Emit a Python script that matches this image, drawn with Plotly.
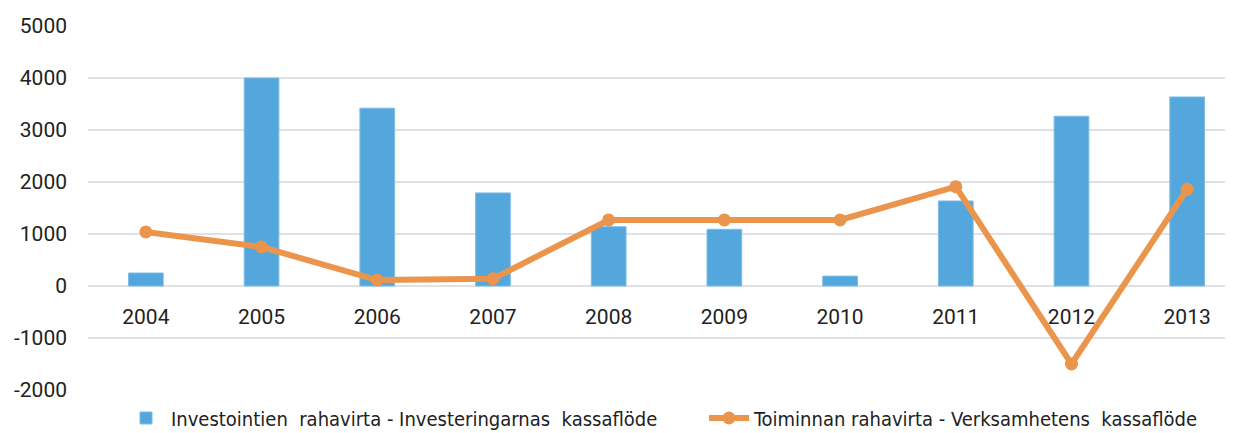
import plotly.graph_objects as go

years = ["2004", "2005", "2006", "2007", "2008", "2009", "2010", "2011", "2012", "2013"]
investing = [250, 4000, 3420, 1790, 1140, 1090, 190, 1635, 3265, 3635]
operating = [1040, 750, 115, 140, 1270, 1270, 1270, 1910, -1500, 1860]
bar_name = "Investointien  rahavirta - Investeringarnas  kassaflöde"
line_name = "Toiminnan rahavirta - Verksamhetens  kassaflöde"
y_min, y_max = -2000, 5000
y_ticks = [-2000, -1000, 0, 1000, 2000, 3000, 4000, 5000]

# page has an 8px body margin; figure coordinates below are screen - 8
W, H = 1225, 441
left_px = 80
top_px, bottom_px = 18, 382
plot_w = W - left_px
legend_center_px = 410

fig = go.Figure()
fig.add_trace(go.Bar(
    x=years, y=investing, name=bar_name, width=0.3, legend="legend",
    marker=dict(color="#54A7DC", line=dict(color="#7DBDE6", width=1)),
))
fig.add_trace(go.Scatter(
    x=years, y=operating, name=line_name, mode="lines+markers", legend="legend2",
    line=dict(color="#EA954B", width=6),
    marker=dict(color="#EA954B", size=13),
))

legend_font = dict(family="DejaVu Sans Condensed, DejaVu Sans, sans-serif", size=20, color="#222222")
fig.update_layout(
    width=W, height=H,
    margin=dict(l=left_px, r=0, t=0, b=0),
    plot_bgcolor="white", paper_bgcolor="white",
    font=dict(family="Roboto, sans-serif", color="#222222", size=21),
    showlegend=True,
    legend=dict(orientation="h", x=(113 - left_px) / plot_w, xanchor="left",
                y=(H - legend_center_px) / H, yanchor="middle",
                font=legend_font, itemwidth=40, bgcolor="rgba(0,0,0,0)"),
    legend2=dict(orientation="h", x=(696 - left_px) / plot_w, xanchor="left",
                 y=(H - legend_center_px) / H, yanchor="middle",
                 font=legend_font, itemwidth=40, bgcolor="rgba(0,0,0,0)"),
)
fig.update_xaxes(
    type="category", range=[-0.5, 9.396], automargin=False,
    anchor="free", position=(1 - bottom_px / H) + (0 - y_min) / (y_max - y_min) * (bottom_px - top_px) / H,
    showgrid=False, showline=False, zeroline=False,
    ticks="outside", ticklen=12, tickcolor="rgba(0,0,0,0)",
    tickfont=dict(size=21, color="#222222"),
)
fig.update_yaxes(
    domain=[1 - bottom_px / H, 1 - top_px / H],
    range=[y_min, y_max], tickvals=y_ticks, ticktext=[str(v) for v in y_ticks],
    automargin=False,
    showgrid=True, gridcolor="#E0E0E6", gridwidth=2,
    zeroline=True, zerolinecolor="#E0E0E6", zerolinewidth=2,
    showline=False, ticks="", ticklabelstandoff=20,
    tickfont=dict(size=21, color="#222222"),
)
fig.write_html("out.html")
